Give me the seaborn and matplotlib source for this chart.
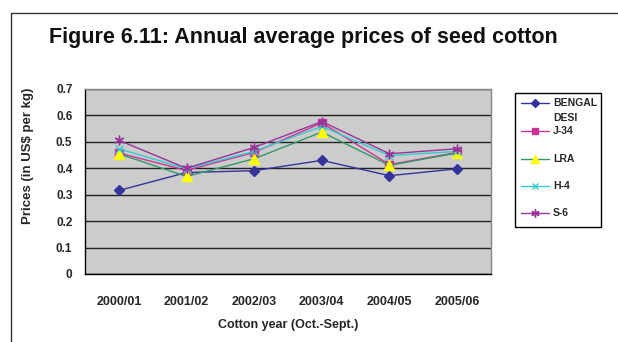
import matplotlib
matplotlib.use("Agg")
import matplotlib.pyplot as plt
from matplotlib.lines import Line2D
from matplotlib.patches import Rectangle
import seaborn as sns
import pandas as pd
import numpy as np

years = ["2000/01", "2001/02", "2002/03", "2003/04", "2004/05", "2005/06"]
bengal_desi = [0.316, 0.384, 0.391, 0.430, 0.372, 0.398]
j34 = [0.458, 0.392, 0.460, 0.572, 0.414, 0.460]
lra = [0.455, 0.369, 0.436, 0.537, 0.411, 0.458]
h4 = [0.474, 0.398, 0.464, 0.559, 0.448, 0.464]
s6 = [0.506, 0.400, 0.479, 0.577, 0.455, 0.474]
series_names = ["BENGAL DESI", "J-34", "LRA", "H-4", "S-6"]
yticks = [0, 0.1, 0.2, 0.3, 0.4, 0.5, 0.6, 0.7]

sns.set_style("white")
plt.rcParams['font.family'] = ['Liberation Sans', 'DejaVu Sans']

styles = {
    "BENGAL DESI": dict(color="#333399", marker="D", mfc="#333399", mec="#333399", ms=5),
    "J-34": dict(color="#CC3399", marker="s", mfc="#CC3399", mec="#CC3399", ms=6),
    "LRA": dict(color="#339966", marker="^", mfc="#FFFF00", mec="#FFFF00", ms=7),
    "H-4": dict(color="#33CCCC", marker="x", mfc="#33CCCC", mec="#33CCCC", ms=6),
    "S-6": dict(color="#993399", marker=(6, 2, 0), mfc="#993399", mec="#993399", ms=7),
}

df = pd.DataFrame({"year": years, "BENGAL DESI": bengal_desi, "J-34": j34,
                   "LRA": lra, "H-4": h4, "S-6": s6})
long = df.melt(id_vars="year", var_name="variety", value_name="price")

fig = plt.figure(figsize=(6.18, 3.42), dpi=100)
W, H = 618, 342
ax = fig.add_axes([85 / W, 1 - 274 / H, (491 - 85) / W, (274 - 89) / H])
ax.set_facecolor("#CCCCCC")

for name in series_names:
    st = styles[name]
    sub = long[long["variety"] == name]
    sns.lineplot(data=sub, x="year", y="price", ax=ax, color=st["color"],
                 linewidth=1.0, marker=st["marker"], markersize=st["ms"],
                 markerfacecolor=st["mfc"], markeredgecolor=st["mec"],
                 markeredgewidth=1.0, sort=False, legend=False, zorder=3)

ax.set_xlim(-0.5, len(years) - 0.5)
ax.set_ylim(0, 0.7)
ax.set_yticks(yticks)
ax.set_yticklabels([("%g" % v) for v in yticks], fontsize=8.5, fontweight="bold")
ax.set_xticks(range(len(years)))
ax.set_xticklabels(years, fontsize=9, fontweight="bold")
ax.set_xticks(np.arange(-0.5, len(years), 1.0), minor=True)
ax.tick_params(axis="x", which="major", length=0, pad=16)
ax.tick_params(axis="x", which="minor", length=4, width=1, color="black", direction="out")
ax.tick_params(axis="y", length=4, width=1, color="black", direction="out", pad=5)
ax.yaxis.grid(True, color="#222222", linewidth=1.0)
ax.xaxis.grid(False)
ax.set_axisbelow(True)
for s in ["top", "right"]:
    ax.spines[s].set_color("#888888")
    ax.spines[s].set_linewidth(1.0)
for s in ["left", "bottom"]:
    ax.spines[s].set_color("black")
    ax.spines[s].set_linewidth(1.0)

ax.set_xlabel("Cotton year (Oct.-Sept.)", fontsize=9, fontweight="bold", labelpad=8)
ax.set_ylabel("Prices (in US$ per kg)", fontsize=9.5, fontweight="bold")
ax.yaxis.set_label_coords(-0.125, 0.64)

fig.text(303 / W, 1 - 38 / H, "Figure 6.11: Annual average prices of seed cotton",
         fontsize=15.5, fontweight="bold", ha="center", va="center", color="#111111")

# figure border (left and top lines)
fig.add_artist(Line2D([11 / W, 11 / W], [0, 1 - 13 / H], color="#333333", lw=1.0,
                      transform=fig.transFigure))
fig.add_artist(Line2D([11 / W, 1], [1 - 13 / H, 1 - 13 / H], color="#333333", lw=1.0,
                      transform=fig.transFigure))

# legend box
fig.add_artist(Rectangle((515 / W, 1 - 227 / H), (601 - 515) / W, (227 - 93) / H,
                         transform=fig.transFigure, facecolor="white",
                         edgecolor="black", lw=1.0))
leg_y = [103, 131, 159, 186, 213]
for name, yy in zip(series_names, leg_y):
    st = styles[name]
    yf = 1 - yy / H
    fig.add_artist(Line2D([521 / W, 549 / W], [yf, yf], color=st["color"], lw=1.0,
                          transform=fig.transFigure))
    fig.add_artist(Line2D([535 / W], [yf], marker=st["marker"], ms=st["ms"] - 1,
                          mfc=st["mfc"], mec=st["mec"], mew=1.0, lw=0,
                          transform=fig.transFigure))
    words = name.split(" ")
    if len(words) > 1:
        fig.text(553 / W, yf, words[0], fontsize=7.5, fontweight="bold",
                 ha="left", va="center")
        fig.text(553 / W, 1 - 118 / H, " ".join(words[1:]), fontsize=7.5,
                 fontweight="bold", ha="left", va="center")
    else:
        fig.text(553 / W, yf, name, fontsize=7.5, fontweight="bold",
                 ha="left", va="center")

fig.savefig("out.png", dpi=100)
